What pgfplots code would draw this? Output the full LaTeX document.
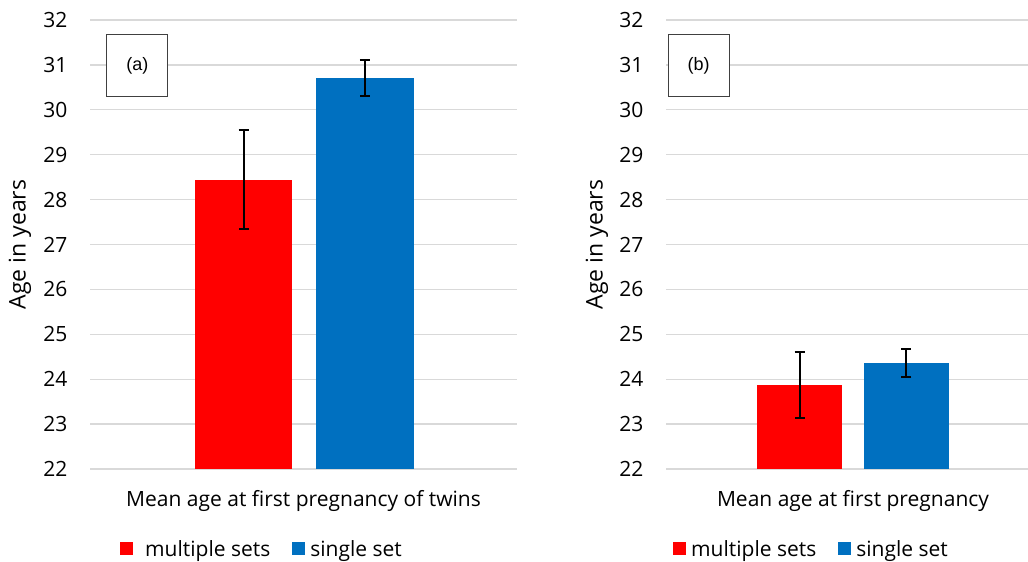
\documentclass[border=0pt]{standalone}
\usepackage{pgfplots}
\pgfplotsset{compat=1.18}
\usepackage{fontspec}
\setmainfont{Open Sans}
\newfontfamily\arialfont{Liberation Sans}
\definecolor{redbar}{RGB}{255,0,0}
\definecolor{bluebar}{RGB}{0,112,192}
\definecolor{gridc}{RGB}{217,217,217}
\newcommand{\fs}{\fontsize{21}{24}\selectfont}
\pgfplotsset{
 panel/.style={
  scale only axis, height=449pt,
  ymin=22, ymax=32, ytick={22,23,...,32},
  ymajorgrids, grid style={gridc, line width=1.3pt},
  axis line style={draw=none}, major tick length=0pt,
  xtick=\empty,
  /pgf/number format/assume math mode=true,
  yticklabel style={font=\fs, xshift=-19pt},
  ybar, bar width=0.455,
  legend columns=2,
  legend cell align=left,
  legend style={draw=none, fill=none, font=\fs, anchor=west,
    /tikz/every even column/.append style={column sep=20pt}},
  legend image code/.code={\fill[##1,draw=none] (0pt,-6.5pt) rectangle (13pt,6.5pt);},
  clip=false,
 },
 bars/.style={bar shift=0pt, draw=none, fill=#1,
  error bars/.cd, y dir=both, y explicit,
  error bar style={draw=black, line width=2pt},
  error mark options={rotate=90, draw=black, mark size=5pt, line width=2pt}},
}
\begin{document}
\begin{tikzpicture}
\path[use as bounding box] (0pt,0pt) rectangle (1028pt,562pt);
% Panel (a)
\begin{axis}[panel, at={(90pt,93pt)}, anchor=south west, width=427pt,
  xmin=-1, xmax=1,
  legend style={at={(rel axis cs:0.0,-0.178)}, xshift=27pt}]
\addplot[bars=redbar] coordinates {(-0.281,28.44) +- (0,1.1)};
\addlegendentry{\hspace{10pt}multiple sets}
\addplot[bars=bluebar] coordinates {(0.288,30.71) +- (0,0.41)};
\addlegendentry{\hspace{3pt}single set}
\node[font=\fontsize{23}{26}\selectfont, rotate=90] at ([xshift=-70pt]rel axis cs:0,0.5) {Age in years};
\node[font=\fs] at ([yshift=-32pt]axis cs:0,22) {Mean age at first pregnancy of twins};
\node[draw=black!75, line width=0.8pt, fill=white, minimum width=61pt, minimum height=62pt, font=\arialfont\fontsize{18}{20}\selectfont] at (axis cs:-0.778,30.98) {(a)};
\end{axis}
% Panel (b)
\begin{axis}[panel, at={(666pt,93pt)}, anchor=south west, width=362pt,
  xmin=-1, xmax=0.936,
  legend style={at={(rel axis cs:0.0,-0.178)}, xshift=4pt}]
\addplot[bars=redbar] coordinates {(-0.286,23.87) +- (0,0.74)};
\addlegendentry{\hspace{3pt}multiple sets}
\addplot[bars=bluebar] coordinates {(0.286,24.36) +- (0,0.31)};
\addlegendentry{\hspace{3pt}single set}
\node[font=\fontsize{23}{26}\selectfont, rotate=90] at ([xshift=-69pt]rel axis cs:0,0.5) {Age in years};
\node[font=\fs] at ([yshift=-32pt]axis cs:0,22) {Mean age at first pregnancy};
\node[draw=black!75, line width=0.8pt, fill=white, minimum width=61pt, minimum height=62pt, font=\arialfont\fontsize{18}{20}\selectfont] at (axis cs:-0.826,30.98) {(b)};
\end{axis}
\end{tikzpicture}
\end{document}
